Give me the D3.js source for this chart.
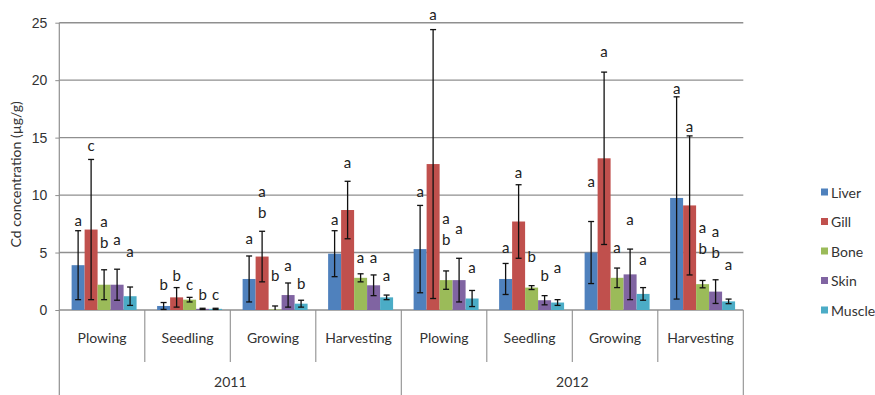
<!DOCTYPE html>
<html>
<head>
<meta charset="utf-8">
<script src="https://cdn.jsdelivr.net/npm/d3@7"></script>
<style>
  html, body { margin: 0; padding: 0; background: #fff; }
  svg { display: block; font-family: Lato, "Noto Sans", sans-serif; }
</style>
</head>
<body>
<svg id="chart" width="875" height="395"></svg>
<script>
// Cd concentration in fish tissues by farming stage and year (mean ± SD)
const years = ["2011", "2012"];
const stages = ["Plowing", "Seedling", "Growing", "Harvesting"];
const tissues = ["Liver", "Gill", "Bone", "Skin", "Muscle"];
const yTicks = [0, 5, 10, 15, 20, 25];

// values per tissue, in order: 2011 Plowing..Harvesting, 2012 Plowing..Harvesting
const liver    = [3.9, 0.35, 2.7, 4.9, 5.3, 2.7, 5.0, 9.75];
const liverSD  = [3.0, 0.3, 2.0, 2.0, 3.8, 1.35, 2.7, 8.8];
const gill     = [7.0, 1.1, 4.65, 8.7, 12.7, 7.7, 13.2, 9.1];
const gillSD   = [6.1, 0.85, 2.2, 2.5, 11.7, 3.2, 7.5, 6.05];
const bone     = [2.2, 0.9, 0.05, 2.8, 2.6, 1.95, 2.8, 2.25];
const boneSD   = [1.3, 0.2, 0.3, 0.35, 0.8, 0.17, 0.85, 0.32];
const skin     = [2.2, 0.1, 1.3, 2.15, 2.6, 0.85, 3.1, 1.6];
const skinSD   = [1.35, 0.05, 1.05, 0.9, 1.9, 0.4, 2.2, 1.03];
const muscle   = [1.2, 0.1, 0.55, 1.1, 1.0, 0.65, 1.4, 0.75];
const muscleSD = [0.8, 0.05, 0.3, 0.2, 0.7, 0.25, 0.55, 0.2];

// significance letters and the concentration level each one is written at
const liverLetters  = ["a", "b", "a", "a", "a", "a", "a", "a"];
const liverAt       = [7.84, 2.26, 6.25, 7.9, 10.39, 5.51, 11.24, 19.31];
const gillLetters   = ["c", "b", "ab", "a", "a", "a", "a", "a"];
const gillAt        = [14.37, 3.05, 10.37, 12.87, 25.78, 12.0, 22.5, 16.05];
const boneLetters   = ["ab", "c", "b", "a", "ab", "b", "a", "ab"];
const boneAt        = [7.75, 2.26, 3.05, 4.64, 7.99, 4.7, 5.51, 7.26];
const skinLetters   = ["a", "b", "a", "a", "a", "b", "a", "ab"];
const skinAt        = [6.16, 1.39, 3.92, 4.64, 7.12, 3.05, 7.9, 6.88];
const muscleLetters = ["a", "c", "b", "a", "a", "a", "a", "a"];
const muscleAt      = [5.17, 1.39, 2.33, 3.02, 3.77, 3.77, 4.42, 3.98];

const colors = ["#4F81BD", "#C0504D", "#9BBB59", "#8064A2", "#4BACC6"];

const series = [
  { values: liver,  sd: liverSD,  letters: liverLetters,  at: liverAt },
  { values: gill,   sd: gillSD,   letters: gillLetters,   at: gillAt },
  { values: bone,   sd: boneSD,   letters: boneLetters,   at: boneAt },
  { values: skin,   sd: skinSD,   letters: skinLetters,   at: skinAt },
  { values: muscle, sd: muscleSD, letters: muscleLetters, at: muscleAt }
];

const groups = years.flatMap(yr => stages.map(st => yr + " " + st));

const svg = d3.select("#chart");
const plot = { left: 59.3, right: 743.3, top: 22.7, bottom: 310 };
const gridColor = "#8f8f8f";

const y = d3.scaleLinear().domain([0, 25]).range([plot.bottom, plot.top]);
const x = d3.scaleBand().domain(groups).range([plot.left, plot.right]).padding(0);
const xs = d3.scaleBand().domain(tissues).range([0, x.bandwidth()])
  .paddingInner(0).paddingOuter(0.79).align(0.6);
const xYear = d3.scaleBand().domain(years).range([plot.left, plot.right]).padding(0);

// horizontal gridlines
svg.append("g").selectAll("line").data(yTicks.filter(t => t > 0)).join("line")
  .attr("x1", plot.left).attr("x2", plot.right)
  .attr("y1", d => y(d)).attr("y2", d => y(d))
  .attr("stroke", gridColor).attr("stroke-width", 1.4);

// y axis
const yAxis = svg.append("g").attr("transform", `translate(${plot.left},0)`)
  .call(d3.axisLeft(y).tickValues(yTicks).tickSize(4).tickPadding(8));
yAxis.select(".domain").remove();
yAxis.selectAll(".tick line").attr("stroke", gridColor);
yAxis.selectAll(".tick text").attr("fill", "#333").style("font-size", "14px")
  .style("font-family", "inherit");
svg.append("line").attr("x1", plot.left).attr("x2", plot.left)
  .attr("y1", plot.top).attr("y2", 395).attr("stroke", gridColor).attr("stroke-width", 1.2);

// y axis title
svg.append("text")
  .attr("transform", `translate(15,${(plot.top + plot.bottom) / 2 + 8}) rotate(-90)`)
  .attr("text-anchor", "middle").attr("dominant-baseline", "central")
  .attr("fill", "#333").style("font-size", "14px")
  .text("Cd concentration (µg/g)");

// category axis: baseline, dividers and labels
svg.append("line").attr("x1", plot.left).attr("x2", plot.right)
  .attr("y1", plot.bottom).attr("y2", plot.bottom)
  .attr("stroke", gridColor).attr("stroke-width", 1.4);
svg.append("g").selectAll("line").data(groups.slice(1)).join("line")
  .attr("x1", d => x(d)).attr("x2", d => x(d))
  .attr("y1", plot.bottom).attr("y2", d => stages.indexOf(d.split(" ")[1]) === 0 ? 395 : 362)
  .attr("stroke", gridColor).attr("stroke-width", 1.1);
svg.append("line").attr("x1", plot.right).attr("x2", plot.right)
  .attr("y1", plot.bottom).attr("y2", 395).attr("stroke", gridColor).attr("stroke-width", 1.1);

svg.append("g").selectAll("text").data(groups).join("text")
  .attr("x", d => x(d) + x.bandwidth() / 2).attr("y", 337)
  .attr("text-anchor", "middle").attr("dominant-baseline", "central")
  .attr("fill", "#333").style("font-size", "14px")
  .text(d => d.split(" ")[1]);
svg.append("g").selectAll("text").data(years).join("text")
  .attr("x", d => xYear(d) + xYear.bandwidth() / 2).attr("y", 381)
  .attr("text-anchor", "middle").attr("dominant-baseline", "central")
  .attr("fill", "#333").style("font-size", "14px")
  .text(d => d);

// bars, error bars and letters
const capHalf = 3;
series.forEach((s, si) => {
  const g = svg.append("g");
  const rows = groups.map((grp, gi) => ({
    grp, v: s.values[gi], sd: s.sd[gi], letter: s.letters[gi], at: s.at[gi]
  }));
  const cx = d => x(d.grp) + xs(tissues[si]) + xs.bandwidth() / 2;

  g.selectAll("rect").data(rows).join("rect")
    .attr("x", d => x(d.grp) + xs(tissues[si]))
    .attr("width", xs.bandwidth())
    .attr("y", d => y(d.v))
    .attr("height", d => y(0) - y(d.v))
    .attr("fill", colors[si]);

  const err = g.append("g").attr("stroke", "#111").attr("stroke-width", 1.3);
  err.selectAll("line.v").data(rows).join("line").attr("class", "v")
    .attr("x1", cx).attr("x2", cx)
    .attr("y1", d => y(d.v + d.sd)).attr("y2", d => y(Math.max(0, d.v - d.sd)));
  err.selectAll("line.t").data(rows).join("line").attr("class", "t")
    .attr("x1", d => cx(d) - capHalf).attr("x2", d => cx(d) + capHalf)
    .attr("y1", d => y(d.v + d.sd)).attr("y2", d => y(d.v + d.sd));
  err.selectAll("line.b").data(rows.filter(d => d.v - d.sd > 0)).join("line").attr("class", "b")
    .attr("x1", d => cx(d) - capHalf).attr("x2", d => cx(d) + capHalf)
    .attr("y1", d => y(d.v - d.sd)).attr("y2", d => y(d.v - d.sd));

  const lt = g.selectAll("text").data(rows).join("text")
    .attr("x", cx).attr("y", d => y(d.at))
    .attr("text-anchor", "middle").attr("dominant-baseline", "central")
    .attr("fill", "#222").style("font-size", "15px");
  lt.selectAll("tspan").data(d => d.letter.split("").map(ch => ({ ch, x: cx(d) })))
    .join("tspan")
    .attr("x", d => d.x).attr("dy", (d, i) => i === 0 ? 0 : 21)
    .text(d => d.ch);
});

// legend
const legend = svg.append("g");
const ly = d3.scalePoint().domain(tissues).range([192, 310]);
legend.selectAll("rect").data(tissues).join("rect")
  .attr("x", 821).attr("y", d => ly(d) - 3.5).attr("width", 7).attr("height", 7)
  .attr("fill", (d, i) => colors[i]);
legend.selectAll("text").data(tissues).join("text")
  .attr("x", 831).attr("y", d => ly(d)).attr("dominant-baseline", "central")
  .attr("fill", "#333").style("font-size", "14px")
  .text(d => d);
</script>
</body>
</html>
